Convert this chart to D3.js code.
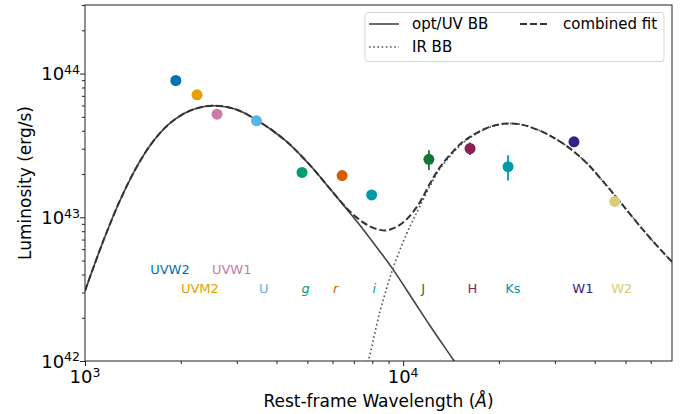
<!DOCTYPE html>
<html>
<head>
<meta charset="utf-8">
<script src="https://cdn.jsdelivr.net/npm/d3@7"></script>
<style>
  body { margin: 0; background: #fff; }
  text { font-family: "DejaVu Sans", sans-serif; }
</style>
</head>
<body>
<div id="chart"></div>
<script>
// photometry, one entry per band
var bands    = ["UVW2", "UVM2", "UVW1", "U", "g", "r", "i", "J", "H", "Ks", "W1", "W2"];
var bandWave = [1930, 2250, 2600, 3460, 4810, 6430, 7960, 12050, 16230, 21370, 34430, 46240];
var bandLum  = [8.95e43, 7.11e43, 5.22e43, 4.69e43, 2.05e43, 1.95e43, 1.43e43, 2.53e43, 3.01e43, 2.25e43, 3.35e43, 1.29e43];
var bandErr  = [0, 0, 0, 0, 0, 0, 0, 0.4e43, 0.3e43, 0.45e43, 0, 0];
var bandColor = ["#0072B2", "#E69F00", "#CC79A7", "#56B4E9", "#009E73", "#D55E00", "#0099A9",
                 "#117733", "#882255", "#0099A9", "#332288", "#DDCC77"];
// where the band names sit (data units)
var labelWave = [1849, 2296, 2891, 3648, 4934, 6133, 8110, 11560, 16510, 22130, 36720, 48640];
var labelLum  = [4.3e42, 3.2e42, 4.3e42, 3.2e42, 3.2e42, 3.2e42, 3.2e42, 3.2e42, 3.2e42, 3.2e42, 3.2e42, 3.2e42];
var italicBands = ["g", "r", "i"];

// model curves
var optWave = [1000, 1128.7, 1272.3, 1435.7, 1620.4, 1827, 2061.8, 2326.6, 2561.8, 2960.3, 3463.9, 4250, 4736, 5215.6, 5885.2, 6640.9, 7488.5, 8450.7, 9302.6, 10750, 12133, 14359, 16206];
var optLum  = [3.072e42, 6.413e42, 1.2318e43, 2.132e43, 3.270e43, 4.407e43, 5.317e43, 5.855e43, 5.978e43, 5.660e43, 4.753e43, 3.448e43, 2.742e43, 2.173e43, 1.582e43, 1.1443e43, 8.237e42, 5.788e42, 4.323e42, 2.659e42, 1.767e42, 1.024e42, 6.9e41];

var irWave = [7634, 7762, 8450.7, 9302.6, 10249, 10750, 11287, 12133, 13045, 14359, 15627, 18281, 20618, 23266, 26250, 29602, 33403, 37692, 42500, 47960, 54110, 61018, 70000];
var irLum  = [9.23e41, 1.0e42, 2.194e42, 4.442e42, 7.663e42, 9.592e42, 1.191e43, 1.641e43, 2.173e43, 2.808e43, 3.377e43, 4.140e43, 4.457e43, 4.436e43, 4.094e43, 3.601e43, 3.018e43, 2.392e43, 1.778e43, 1.290e43, 9.289e42, 6.795e42, 4.892e42];

var fitWave = [1000, 1128.7, 1272.3, 1435.7, 1620.4, 1827, 2061.8, 2326.6, 2561.8, 2960.3, 3463.9, 4250, 4736, 5215.6, 5885.2, 6640.9, 7051, 7488.5, 7957, 8450.7, 8868, 9302.6, 9764, 10249, 10750, 11287, 12133, 13045, 14359, 15627, 18281, 20618, 23266, 26250, 29602, 33403, 37692, 42500, 47960, 54110, 61018, 70000];
var fitLum  = [3.072e42, 6.413e42, 1.2318e43, 2.132e43, 3.270e43, 4.407e43, 5.317e43, 5.855e43, 5.978e43, 5.660e43, 4.753e43, 3.448e43, 2.742e43, 2.173e43, 1.582e43, 1.1571e43, 1.0227e43, 9.215e42, 8.533e42, 8.172e42, 8.107e42, 8.371e42, 8.855e42, 9.670e42, 1.0904e43, 1.2700e43, 1.7085e43, 2.226e43, 2.877e43, 3.431e43, 4.173e43, 4.471e43, 4.436e43, 4.094e43, 3.601e43, 3.018e43, 2.392e43, 1.778e43, 1.290e43, 9.289e42, 6.795e42, 4.892e42];

var xMajor = [1e3, 1e4];
var xMinor = [2e3, 3e3, 4e3, 5e3, 6e3, 7e3, 8e3, 9e3, 2e4, 3e4, 4e4, 5e4, 6e4];
var yMajor = [1e42, 1e43, 1e44];
var yMinor = [2e42, 3e42, 4e42, 5e42, 6e42, 7e42, 8e42, 9e42, 2e43, 3e43, 4e43, 5e43, 6e43, 7e43, 8e43, 9e43, 2e44, 3e44];

var width = 686, height = 414;
var margin = {top: 5, right: 14, bottom: 53, left: 85};

var svg = d3.select("#chart").append("svg")
    .attr("width", width)
    .attr("height", height);

var x = d3.scaleLog()
    .domain([1e3, 7e4])
    .range([margin.left, width - margin.right]);

var y = d3.scaleLog()
    .domain([1e42, 3e44])
    .range([height - margin.bottom, margin.top]);

svg.append("clipPath").attr("id", "clip")
  .append("rect")
    .attr("x", margin.left)
    .attr("y", margin.top)
    .attr("width", width - margin.left - margin.right)
    .attr("height", height - margin.top - margin.bottom);

var zip = (ws, ls) => ws.map((w, i) => [w, ls[i]]);

var line = d3.line()
    .x(d => x(d[0]))
    .y(d => y(d[1]))
    .curve(d3.curveCatmullRom.alpha(0.5));

var curves = svg.append("g").attr("clip-path", "url(#clip)");

//opt/UV blackbody
curves.append("path")
    .attr("d", line(zip(optWave, optLum)))
    .attr("fill", "none")
    .attr("stroke", "#444")
    .attr("stroke-width", 1.6);

//IR blackbody
curves.append("path")
    .attr("d", line(zip(irWave, irLum)))
    .attr("fill", "none")
    .attr("stroke", "#555")
    .attr("stroke-width", 1.6)
    .attr("stroke-dasharray", "1.6,2.6");

//combined fit
curves.append("path")
    .attr("d", line(zip(fitWave, fitLum)))
    .attr("fill", "none")
    .attr("stroke", "#333")
    .attr("stroke-width", 2)
    .attr("stroke-dasharray", "7,3");

// error bars
svg.append("g")
  .selectAll("line")
  .data(bands.map((b, i) => i).filter(i => bandErr[i] > 0))
  .join("line")
    .attr("x1", i => x(bandWave[i]))
    .attr("x2", i => x(bandWave[i]))
    .attr("y1", i => y(bandLum[i] - bandErr[i]))
    .attr("y2", i => y(bandLum[i] + bandErr[i]))
    .attr("stroke", i => bandColor[i])
    .attr("stroke-width", 1.8);

// points
svg.append("g")
  .selectAll("circle")
  .data(bands.map((b, i) => i))
  .join("circle")
    .attr("cx", i => x(bandWave[i]))
    .attr("cy", i => y(bandLum[i]))
    .attr("r", 5.5)
    .attr("fill", i => bandColor[i]);

// band names
svg.append("g")
  .selectAll("text")
  .data(bands.map((b, i) => i))
  .join("text")
    .attr("x", i => x(labelWave[i]))
    .attr("y", i => y(labelLum[i]))
    .attr("text-anchor", "middle")
    .attr("dominant-baseline", "central")
    .style("font-size", "13px")
    .style("font-style", i => italicBands.includes(bands[i]) ? "italic" : "normal")
    .attr("fill", i => bandColor[i])
    .text(i => bands[i]);

// frame
svg.append("rect")
    .attr("x", margin.left)
    .attr("y", margin.top)
    .attr("width", width - margin.left - margin.right)
    .attr("height", height - margin.top - margin.bottom)
    .attr("fill", "none")
    .attr("stroke", "#222")
    .attr("stroke-width", 1);

// ticks
var xAxisG = svg.append("g").attr("transform", `translate(0,${height - margin.bottom})`);
xAxisG.append("g").call(d3.axisBottom(x).tickValues(xMinor).tickSize(3).tickFormat(""));
xAxisG.append("g").call(d3.axisBottom(x).tickValues(xMajor).tickSize(5).tickFormat(""));
xAxisG.selectAll(".domain").remove();

var yAxisG = svg.append("g").attr("transform", `translate(${margin.left},0)`);
yAxisG.append("g").call(d3.axisLeft(y).tickValues(yMinor).tickSize(3).tickFormat(""));
yAxisG.append("g").call(d3.axisLeft(y).tickValues(yMajor).tickSize(5).tickFormat(""));
yAxisG.selectAll(".domain").remove();
svg.selectAll(".tick line").attr("stroke", "#222");

function powLabel(sel, v) {
  sel.append("tspan").text("10");
  sel.append("tspan")
      .attr("dy", "-0.5em")
      .style("font-size", "12.5px")
      .text(Math.round(Math.log10(v)));
}

svg.append("g").selectAll("text")
  .data(xMajor)
  .join("text")
    .attr("x", d => x(d))
    .attr("y", 383)
    .attr("text-anchor", "middle")
    .style("font-size", "18px")
    .each(function(d) { powLabel(d3.select(this), d); });

svg.append("g").selectAll("text")
  .data(yMajor)
  .join("text")
    .attr("x", 80)
    .attr("y", d => y(d) + 6.5)
    .attr("text-anchor", "end")
    .style("font-size", "18px")
    .each(function(d) { powLabel(d3.select(this), d); });

//label for x-axis
var xl = svg.append("text")
    .attr("x", (margin.left + width - margin.right) / 2)
    .attr("y", 407)
    .attr("text-anchor", "middle")
    .style("font-size", "17px");
xl.append("tspan").text("Rest-frame Wavelength (");
xl.append("tspan").style("font-style", "italic").text("Å");
xl.append("tspan").text(")");

//label for y-axis
svg.append("text")
    .attr("transform", `translate(31,${(margin.top + height - margin.bottom) / 2}) rotate(-90)`)
    .attr("text-anchor", "middle")
    .style("font-size", "17px")
    .text("Luminosity (erg/s)");

// legend
var leg = svg.append("g");
leg.append("rect")
    .attr("x", 365).attr("y", 12.5)
    .attr("width", 299).attr("height", 49)
    .attr("rx", 3)
    .attr("fill", "#fff").attr("fill-opacity", 0.8)
    .attr("stroke", "#d6d6d6");

var legItems = [
  {label: "opt/UV BB", col: 0, row: 0, stroke: "#444", dash: null, w: 1.6},
  {label: "IR BB", col: 0, row: 1, stroke: "#555", dash: "1.6,2.6", w: 1.6},
  {label: "combined fit", col: 1, row: 0, stroke: "#333", dash: "7,3", w: 2}
];
legItems.forEach(function(d) {
  var lx = d.col === 0 ? 369 : 520;
  var ly = d.row === 0 ? 24 : 47;
  leg.append("line")
      .attr("x1", lx).attr("x2", lx + 30)
      .attr("y1", ly).attr("y2", ly)
      .attr("stroke", d.stroke)
      .attr("stroke-width", d.w)
      .attr("stroke-dasharray", d.dash);
  leg.append("text")
      .attr("x", lx + 43)
      .attr("y", ly)
      .attr("dominant-baseline", "central")
      .style("font-size", "15px")
      .text(d.label);
});
</script>
</body>
</html>
